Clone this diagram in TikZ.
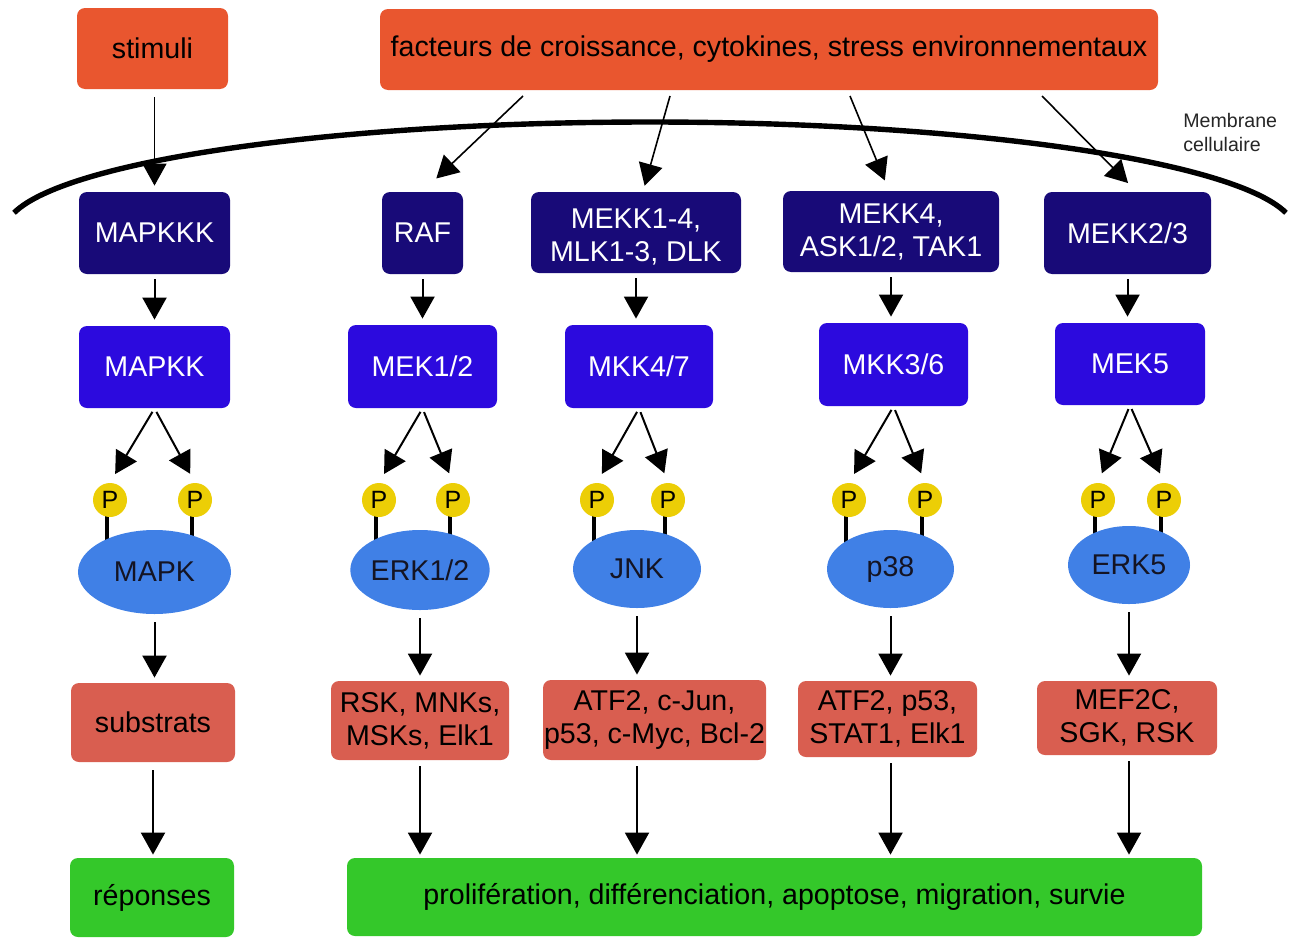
\documentclass[tikz,border=0pt]{standalone}
\usepackage{fontspec}
\setmainfont{Liberation Sans}
\usetikzlibrary{arrows.meta,shapes.geometric}
\pgfdeclarelayer{background}
\pgfsetlayers{background,main}
\definecolor{cOrange}{RGB}{233,86,47}
\definecolor{cNavy}{RGB}{24,10,120}
\definecolor{cBlue}{RGB}{44,10,222}
\definecolor{cEll}{RGB}{64,128,230}
\definecolor{cYellow}{RGB}{236,206,6}
\definecolor{cSalmon}{RGB}{217,94,80}
\definecolor{cGreen}{RGB}{52,200,42}
\definecolor{cDark}{RGB}{20,20,35}
\begin{document}
\begin{tikzpicture}[x=0.5pt,y=-0.5pt,
  box/.style={rectangle, rounded corners=4pt, inner sep=0pt, align=center,
    font=\fontsize{14.3}{16.5}\selectfont},
  topbox/.style={box, fill=cOrange, text=black},
  kkk/.style={box, fill=cNavy, text=white},
  kk/.style={box, fill=cBlue, text=white},
  sub/.style={box, fill=cSalmon, text=black},
  resp/.style={box, fill=cGreen, text=black},
  ell/.style={ellipse, fill=cEll, inner sep=0pt, text=cDark,
    font=\fontsize{14.3}{16.5}\selectfont},
  pc/.style={circle, fill=cYellow, minimum size=17pt, inner sep=0pt,
    font=\fontsize{12.5}{14}\selectfont},
  arr/.style={-{Triangle[length=11pt,width=12pt]}, line width=1pt},
  tarr/.style={-{Triangle[length=11pt,width=12pt]}, line width=0.8pt},
  stem/.style={line width=2pt},
  membrane/.style={line width=2.7pt}
]
\useasboundingbox (0,0) rectangle (1289,937);

% top boxes
\node[topbox, minimum width=75.5pt, minimum height=40.5pt] (stimuli) at (152.5,48.5) {stimuli};
\node[topbox, minimum width=389pt, minimum height=40.5pt] (fac) at (769,49.5) {facteurs de croissance, cytokines, stress environnementaux};

% membrane
\draw[membrane] plot[domain=170.4:9.6, samples=120, smooth] ({650+645*cos(\x)},{231-109*sin(\x)});
\node[anchor=north west, align=left, text=black!85, inner sep=0pt,
  font=\fontsize{9.8}{12}\selectfont] (memb) at (1183,113) {Membrane\\cellulaire};

% MAPKKK row
\node[kkk, minimum width=75.5pt, minimum height=41pt] (mapkkk) at (154.5,233) {MAPKKK};
\node[kkk, minimum width=40.5pt, minimum height=41pt] (raf) at (422.5,233) {RAF};
\node[kkk, minimum width=105pt, minimum height=40.5pt] (mekk14) at (636,232.5) {\rule{0pt}{14.4pt}MEKK1-4,\\MLK1-3, DLK};
\node[kkk, minimum width=108pt, minimum height=40.5pt] (mekk4) at (891,231.5) {MEKK4,\\ASK1/2, TAK1};
\node[kkk, minimum width=83.5pt, minimum height=41pt] (mekk23) at (1127.5,233) {MEKK2/3};

% MAPKK row
\node[kk, minimum width=75.5pt, minimum height=41pt] (mapkk) at (154.5,367) {MAPKK};
\node[kk, minimum width=74.5pt, minimum height=41.5pt] (mek12) at (422.5,366.5) {MEK1/2};
\node[kk, minimum width=74pt, minimum height=41.5pt] (mkk47) at (639,366.5) {MKK4/7};
\node[kk, minimum width=74.5pt, minimum height=41.5pt] (mkk36) at (893.5,364.5) {MKK3/6};
\node[kk, minimum width=75pt, minimum height=41pt] (mek5) at (1130,364) {MEK5};

% MAPK ellipses
\node[ell, minimum width=76.5pt, minimum height=42pt] (mapk) at (154.5,572) {MAPK};
\node[ell, minimum width=64pt, minimum height=40pt] (erk12) at (420,570) {ERK1/2};
\node[ell, minimum width=64pt, minimum height=39pt] (jnk) at (637,569) {JNK};
\node[ell, minimum width=63.5pt, minimum height=39pt] (p38) at (890.5,569) {p38};
\node[ell, minimum width=61pt, minimum height=39pt] (erk5) at (1129,565) {ERK5};

% phosphates
\node[pc] (p1a) at (110,500) {P};
\node[pc] (p1b) at (195,500) {P};
\node[pc] (p2a) at (379,500) {P};
\node[pc] (p2b) at (453,500) {P};
\node[pc] (p3a) at (597,500) {P};
\node[pc] (p3b) at (668,500) {P};
\node[pc] (p4a) at (849,500) {P};
\node[pc] (p4b) at (925,500) {P};
\node[pc] (p5a) at (1098,500) {P};
\node[pc] (p5b) at (1164,500) {P};

\begin{pgfonlayer}{background}
\foreach \p in {p1a,p1b,p2a,p2b,p3a,p3b,p4a,p4b,p5a,p5b}
  \draw[stem] ([xshift=-1.5pt]\p.center) -- ++(0,-24pt);
\end{pgfonlayer}

% substrates
\node[sub, minimum width=82pt, minimum height=39.5pt] (substrats) at (153,722.5) {substrats};
\node[sub, minimum width=89pt, minimum height=39.5pt] (rsk) at (420,720.5) {RSK, MNKs,\\MSKs, Elk1};
\node[sub, minimum width=111.5pt, minimum height=40pt] (atfa) at (654.5,720) {ATF2, c-Jun,\\p53, c-Myc, Bcl-2};
\node[sub, minimum width=89.5pt, minimum height=38pt] (atfb) at (887.5,719) {ATF2, p53,\\STAT1, Elk1};
\node[sub, minimum width=90pt, minimum height=37pt] (mef2c) at (1127,718) {MEF2C,\\SGK, RSK};

% responses
\node[resp, minimum width=82pt, minimum height=39.5pt] (reponses) at (152,897.5) {réponses};
\node[resp, minimum width=427.5pt, minimum height=39pt] (prolif) at (774.5,897) {prolifération, différenciation, apoptose, migration, survie};

% top arrows
\coordinate (f1) at (523,96);
\coordinate (f2) at (670,96);
\coordinate (f3) at (850,96);
\coordinate (f4) at (1042,96);
\draw[tarr, shorten <=4pt, shorten >=3pt] (stimuli.south -| mapkkk.north) -- (mapkkk.north);
\draw[tarr, shorten >=9.5pt] (f1) -- (raf.north);
\draw[tarr, shorten >=3pt] (f2) -- ([xshift=3.5pt]mekk14.north);
\draw[tarr, shorten >=5.5pt] (f3) -- ([xshift=-1pt]mekk4.north);
\draw[tarr, shorten >=6pt] (f4) -- ([xshift=4.5pt]mekk23.north);

% MAPKKK -> MAPKK
\draw[arr, shorten <=2.5pt, shorten >=3pt] (mapkkk.south) -- (mapkk.north);
\draw[arr, shorten <=2.5pt, shorten >=3pt] (raf.south) -- (mek12.north);
\draw[arr, shorten <=2.5pt, shorten >=3pt] (mekk14.south) -- (mekk14.south |- mkk47.north);
\draw[arr, shorten <=2.5pt, shorten >=3pt] (mekk4.south) -- (mekk4.south |- mkk36.north);
\draw[arr, shorten <=2.5pt, shorten >=3pt] (mekk23.south) -- (mekk23.south |- mek5.north);

% forks
\foreach \k/\a/\b in {mapkk/p1a/p1b, mek12/p2a/p2b, mkk47/p3a/p3b, mkk36/p4a/p4b, mek5/p5a/p5b}{
  \draw[arr, shorten <=2pt, shorten >=5pt] (\k.south) -- (\a.north);
  \draw[arr, shorten <=2pt, shorten >=5pt] (\k.south) -- (\b.north);
}

% MAPK -> substrates
\draw[arr, shorten <=4pt, shorten >=2.5pt] (mapk.south) -- (mapk.south |- substrats.north);
\draw[arr, shorten <=4pt, shorten >=2.5pt] (erk12.south) -- (erk12.south |- rsk.north);
\draw[arr, shorten <=4pt, shorten >=2.5pt] (jnk.south) -- (jnk.south |- atfa.north);
\draw[arr, shorten <=4pt, shorten >=2.5pt] (p38.south) -- (p38.south |- atfb.north);
\draw[arr, shorten <=4pt, shorten >=2.5pt] (erk5.south) -- (erk5.south |- mef2c.north);

% substrates -> responses
\draw[arr, shorten <=4pt, shorten >=1.5pt] (substrats.south) -- (substrats.south |- reponses.north);
\draw[arr, shorten <=3pt, shorten >=1.5pt] (erk12.south |- rsk.south) -- (erk12.south |- prolif.north);
\draw[arr, shorten <=3pt, shorten >=1.5pt] (jnk.south |- atfa.south) -- (jnk.south |- prolif.north);
\draw[arr, shorten <=3pt, shorten >=1.5pt] (p38.south |- atfb.south) -- (p38.south |- prolif.north);
\draw[arr, shorten <=3pt, shorten >=1.5pt] (erk5.south |- mef2c.south) -- (erk5.south |- prolif.north);
\end{tikzpicture}
\end{document}
